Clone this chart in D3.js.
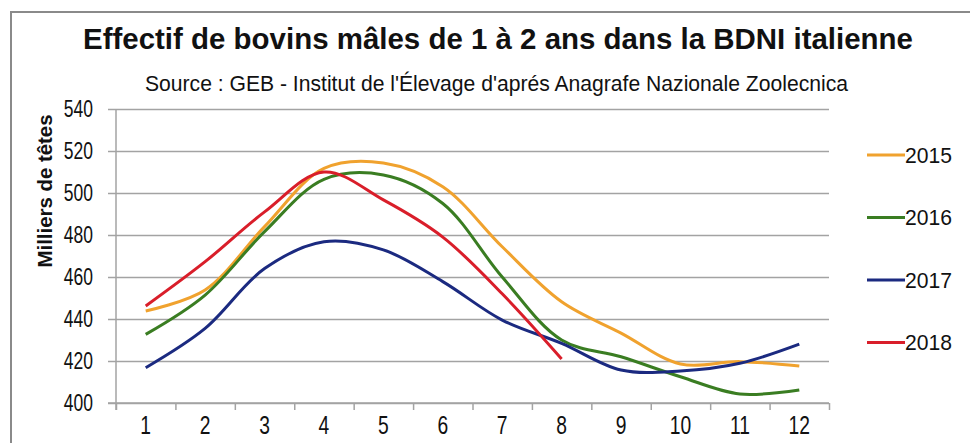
<!DOCTYPE html>
<html>
<head>
<meta charset="utf-8">
<script src="https://cdn.jsdelivr.net/npm/d3@7"></script>
<style>
    body { margin: 0; background: #fff; }
    svg { display: block; font-family: "Liberation Sans", Arial, sans-serif; }
</style>
</head>
<body>
<div id="chart"></div>
<script>
const months = [1, 2, 3, 4, 5, 6, 7, 8, 9, 10, 11, 12];
const years = ["2015", "2016", "2017", "2018"];
const v2015 = [443.8, 453.8, 484, 511.7, 514.3, 503, 474.4, 448.2, 433.3, 418.6, 419.7, 417.6];
const v2016 = [432.7, 451.4, 481.6, 506.5, 508.6, 495, 460, 430, 422, 412.5, 404.3, 406.2];
const v2017 = [416.8, 435.5, 464, 476.8, 472.9, 457.8, 439.5, 428.4, 415.7, 415.2, 418.9, 428];
const v2018 = [446.2, 467.3, 491, 510, 496.7, 479, 452, 421];
const yTicks = [400, 420, 440, 460, 480, 500, 520, 540];
const colors = ["#f0a22e", "#3a7d22", "#1b2a80", "#d91e2a"];

const series = [v2015, v2016, v2017, v2018].map((vals, i) => ({
    name: years[i],
    color: colors[i],
    values: vals.map((v, j) => ({ m: months[j], v: v }))
}));

const w = 970;
const h = 443;
const plotLeft = 116, plotRight = 829, plotTop = 109, plotBottom = 403;

const svg = d3.select("#chart").append("svg").attr("width", w).attr("height", h);

// squeeze text horizontally, the original uses a narrow font
function narrow(sel, k) {
    sel.each(function () {
        const len = this.getComputedTextLength();
        this.setAttribute("textLength", len * k);
        this.setAttribute("lengthAdjust", "spacingAndGlyphs");
    });
}

// frame
svg.append("path")
    .attr("d", `M11,${h} L11,12 L${w},12`)
    .attr("fill", "none")
    .attr("stroke", "#8a8a8a")
    .attr("stroke-width", 2);

svg.append("text")
    .attr("x", 83).attr("y", 49)
    .attr("font-size", 30).attr("font-weight", "bold")
    .attr("textLength", 830).attr("lengthAdjust", "spacingAndGlyphs")
    .attr("fill", "#111")
    .text("Effectif de bovins mâles de 1 à 2 ans dans la BDNI italienne");

svg.append("text")
    .attr("x", 145).attr("y", 91)
    .attr("font-size", 22)
    .attr("textLength", 703).attr("lengthAdjust", "spacingAndGlyphs")
    .attr("fill", "#111")
    .text("Source : GEB - Institut de l'Élevage d'aprés Anagrafe Nazionale Zoolecnica");

const xScale = d3.scaleBand().domain(months).range([plotLeft, plotRight]).padding(0);
const xEdge = d3.scaleLinear().domain([0, 12]).range([plotLeft, plotRight]);
const yScale = d3.scaleLinear().domain([400, 540]).range([plotBottom, plotTop]);

// gridlines
svg.append("g")
    .attr("transform", `translate(${plotLeft},0)`)
    .call(d3.axisLeft(yScale).tickValues(yTicks).tickSize(-(plotRight - plotLeft)).tickFormat(""))
    .call(g => g.select(".domain").remove())
    .call(g => g.selectAll("line").attr("stroke", "#a3a3a3").attr("stroke-width", 1.5));

// y axis
const yAxis = svg.append("g")
    .attr("transform", `translate(${plotLeft},0)`)
    .call(d3.axisLeft(yScale).tickValues(yTicks).tickSize(8).tickPadding(15))
    .call(g => g.select(".domain").attr("stroke", "#a3a3a3").attr("stroke-width", 1.5)
        .attr("d", `M0,${plotTop}V${plotBottom + 7}`))
    .call(g => g.selectAll("line").attr("stroke", "#a3a3a3").attr("stroke-width", 1.5));
yAxis.selectAll("text")
    .attr("font-size", 23).attr("fill", "#111").attr("font-family", "Liberation Sans, Arial")
    .call(narrow, 0.76);

// x axis: ticks between categories
svg.append("g")
    .attr("transform", `translate(0,${plotBottom})`)
    .call(d3.axisBottom(xEdge).ticks(12).tickSize(7).tickFormat(""))
    .call(g => g.select(".domain").attr("stroke", "#a3a3a3").attr("stroke-width", 1.5)
        .attr("d", `M${plotLeft - 8},0H${plotRight}`))
    .call(g => g.selectAll("line").attr("stroke", "#a3a3a3").attr("stroke-width", 1.5));

const xAxis = svg.append("g")
    .attr("transform", `translate(0,${plotBottom})`)
    .call(d3.axisBottom(xScale).tickSize(0).tickPadding(13))
    .call(g => g.select(".domain").remove());
xAxis.selectAll("text")
    .attr("font-size", 26).attr("fill", "#111").attr("font-family", "Liberation Sans, Arial")
    .call(narrow, 0.74);

// y label
svg.append("text")
    .attr("transform", "translate(52,191) rotate(-90)")
    .attr("text-anchor", "middle")
    .attr("font-size", 20).attr("font-weight", "bold")
    .attr("fill", "#111")
    .attr("textLength", 153).attr("lengthAdjust", "spacingAndGlyphs")
    .text("Milliers de têtes");

// lines
const line = d3.line()
    .x(d => xScale(d.m) + xScale.bandwidth() / 2)
    .y(d => yScale(d.v))
    .curve(d3.curveCatmullRom.alpha(0.5));

svg.append("g").selectAll("path")
    .data(series)
    .enter()
    .append("path")
    .attr("d", d => line(d.values))
    .attr("fill", "none")
    .attr("stroke", d => d.color)
    .attr("stroke-width", 3)
    .attr("stroke-linejoin", "round");

// legend
const legend = svg.append("g").selectAll("g")
    .data(series)
    .enter()
    .append("g")
    .attr("transform", (d, i) => `translate(867,${155 + i * 62.5})`);

legend.append("line")
    .attr("x1", 0).attr("x2", 38)
    .attr("stroke", d => d.color)
    .attr("stroke-width", 3);

legend.append("text")
    .attr("x", 38).attr("dy", "0.36em")
    .attr("font-size", 22).attr("fill", "#111")
    .attr("textLength", 47).attr("lengthAdjust", "spacingAndGlyphs")
    .text(d => d.name);
</script>
</body>
</html>
